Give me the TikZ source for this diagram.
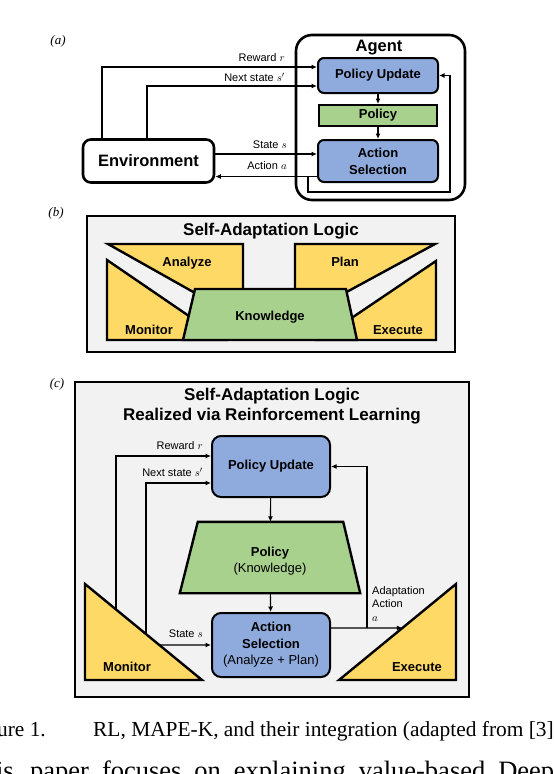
\documentclass[tikz,border=0pt]{standalone}
\usepackage{fontspec}
\setmainfont{Liberation Sans}
\newfontfamily\capfont{Liberation Serif}
\usetikzlibrary{arrows.meta,calc}
\definecolor{ylw}{HTML}{FFD966}
\definecolor{grn}{HTML}{A9D18E}
\definecolor{blu}{HTML}{8FAADC}
\definecolor{bgg}{HTML}{F2F2F2}
\newcommand{\fsz}[2]{\fontsize{#1}{#2}\selectfont}
\begin{document}
\begin{tikzpicture}[x=1pt,y=-1pt,
  conn/.style={line width=1.1pt,-{Latex[length=5.5pt,width=5pt]}},
  bluebox/.style={draw,line width=2pt,fill=blu,rounded corners=6pt,inner sep=0pt,align=center,font=\fsz{13}{17}\bfseries},
  greenbox/.style={draw,line width=2pt,fill=grn,inner sep=0pt,align=center,font=\fsz{13}{16}\bfseries},
  panelbox/.style={draw,line width=2.4pt,fill=bgg,inner sep=0pt},
  mape/.style={draw,line width=2.4pt,fill=ylw,line join=miter},
  mtag/.style={font=\fsz{13}{15}\bfseries,inner sep=0pt},
  lbl/.style={font=\fsz{11}{13.5},inner sep=0pt},
  ttl/.style={font=\fsz{17}{20}\bfseries,inner sep=0pt,align=center},
  plabel/.style={font=\capfont\itshape\fsz{13}{15},inner sep=0pt},
  captxt/.style={font=\capfont\fsz{21.4}{24},inner sep=0pt},
]
\useasboundingbox (0,0) rectangle (554,774);
\clip (0,0) rectangle (554,774);

% ---------------- (a) ----------------
\node[plabel] (pa) at (58,41) {(a)};
\node[draw,line width=2.6pt,rounded corners=16pt,minimum width=169pt,minimum height=165pt,inner sep=0pt] (agent) at (380.5,117.5) {};
\node[font=\fsz{16.5}{18}\bfseries,inner sep=0pt] (agentlbl) at (379,48) {Agent};
\node[bluebox,minimum width=120pt,minimum height=35pt] (pu1) at (378,75.5) {Policy Update};
\node[greenbox,minimum width=118pt,minimum height=21pt] (pol1) at (378,115.5) {Policy};
\node[bluebox,minimum width=120pt,minimum height=42pt] (as1) at (378,161) {Action\\Selection};
\node[draw,line width=2.6pt,rounded corners=8pt,fill=white,minimum width=131pt,minimum height=43pt,inner sep=0pt,font=\fsz{16.5}{18}\bfseries] (env) at (148.5,161) {Environment};

\draw[conn] (pu1) -- (pol1);
\draw[conn] (pol1) -- (as1);
\draw[conn] ([xshift=-46.5pt]env.north) |- ([yshift=8.5pt]pu1.west);
\draw[conn] ([xshift=-1.5pt]env.north) |- ([yshift=-10.5pt]pu1.west);
\draw[conn] ([yshift=7pt]env.east) -- ([yshift=7pt]as1.west);
\draw[conn] ([yshift=-15.5pt]as1.west) -- ([yshift=-15.5pt]env.east);
\coordinate (br1) at ([xshift=-9pt,yshift=-15.5pt]as1.west);
\coordinate (fb1) at ([xshift=11pt,yshift=-31pt]as1.east);
\draw[conn] (br1) |- (fb1) |- (pu1.east);

\node[lbl,anchor=east] (lr1) at (285,58) {Reward $r$};
\node[lbl,anchor=east] (ls1) at (285,77) {Next state $s'$};
\node[lbl,anchor=east] (lst1) at (287,145) {State $s$};
\node[lbl,anchor=east] (la1) at (287,166) {Action $a$};

% ---------------- (b) ----------------
\node[plabel] (pb) at (56,213) {(b)};
\node[panelbox,minimum width=368pt,minimum height=136pt] (sal) at (271,284) {};
\node[ttl] (saltitle) at (271,231) {Self-Adaptation Logic};
\draw[mape] (108,244) -- (243,244) -- (243,320) -- cycle;
\draw[mape] (295,244) -- (435,244) -- (295,320) -- cycle;
\draw[mape] (107,260) -- (107,340) -- (224,340) -- cycle;
\draw[mape] (436,261) -- (436,340) -- (319,340) -- cycle;
\draw[mape,fill=grn] (195,289) -- (346,289) -- (357,340) -- (183,340) -- cycle;
\node[mtag] (an) at (187,263) {Analyze};
\node[mtag] (pl) at (345,262) {Plan};
\node[mtag] (mo) at (149,330) {Monitor};
\node[mtag] (ex) at (398,330) {Execute};
\node[mtag] (kn) at (270,317) {Knowledge};

% ---------------- (c) ----------------
\node[plabel] (pc) at (57,384) {(c)};
\node[panelbox,minimum width=394pt,minimum height=315pt] (rl) at (272,539.5) {};
\node[ttl] (rltitle) at (272,406) {Self-Adaptation Logic\\Realized via Reinforcement Learning};
\node[bluebox,rounded corners=9pt,minimum width=118pt,minimum height=61pt] (pu3) at (271,466.5) {Policy Update};
\node[inner sep=0pt,minimum width=180pt,minimum height=71pt] (pol3) at (270,557.5) {};
\draw[mape,fill=grn] (pol3.south west) -- ([xshift=18pt]pol3.north west) -- ([xshift=-17pt]pol3.north east) -- (pol3.south east) -- cycle;
\node[font=\fsz{13}{16},align=center,inner sep=0pt] (pol3txt) at (270,561) {\textbf{Policy}\\(Knowledge)};
\node[bluebox,rounded corners=9pt,minimum width=118pt,minimum height=64pt,font=\fsz{13}{16.5}] (as3) at (271,645) {\textbf{Action}\\\textbf{Selection}\\(Analyze + Plan)};

\coordinate (mtop) at (85,584); \coordinate (mbl) at (85,680); \coordinate (mbr) at (202,680);
\draw[mape] (mtop) -- (mbl) -- (mbr) -- cycle;
\coordinate (etop) at (456,584); \coordinate (ebr) at (456,680); \coordinate (ebl) at (339,680);
\draw[mape] (etop) -- (ebr) -- (ebl) -- cycle;
\node[mtag] (mon3) at (127,667) {Monitor};
\node[mtag] (exe3) at (417,667) {Execute};

\draw[conn] (pu3) -- (pol3);
\draw[conn] (pol3) -- (as3);
\draw[conn] ($(mtop)!0.265!(mbr)$) |- ([yshift=10.5pt]pu3.west);
\draw[conn] ($(mtop)!0.521!(mbr)$) |- ([yshift=-16.5pt]pu3.west);
\draw[conn] ($(mtop)!0.635!(mbr)$) -- (as3.west);
\coordinate (ea) at ($(etop)!0.458!(ebl)$);
\draw[conn] ([yshift=17pt]as3.east) -- (ea);
\coordinate (br3) at ([xshift=36pt,yshift=17pt]as3.east);
\draw[conn] (br3) |- (pu3.east);

\node[lbl,anchor=east] (lr3) at (203,446) {Reward $r$};
\node[lbl,anchor=east] (ls3) at (203,472) {Next state $s'$};
\node[lbl,anchor=east] (lst3) at (203,634) {State $s$};
\node[lbl,anchor=north west,align=left] (laa3) at (372,586) {Adaptation\\Action\\$a$};

% ---------------- caption ----------------
\node[captxt,anchor=base east] (fig) at (46,736) {Figure 1.};
\node[captxt,anchor=base west] (cap) at (93,736) {RL, MAPE-K, and their integration (adapted from [3]};
\node[font=\capfont\fsz{26.5}{30},anchor=base east,inner sep=0pt] (body0) at (14,779) {This};
\node[font=\capfont\fsz{26.5}{30},anchor=base west,inner sep=0pt] (body) at (30,779) {\makebox[524pt][s]{paper focuses on explaining value-based Deep}};
\end{tikzpicture}
\end{document}
